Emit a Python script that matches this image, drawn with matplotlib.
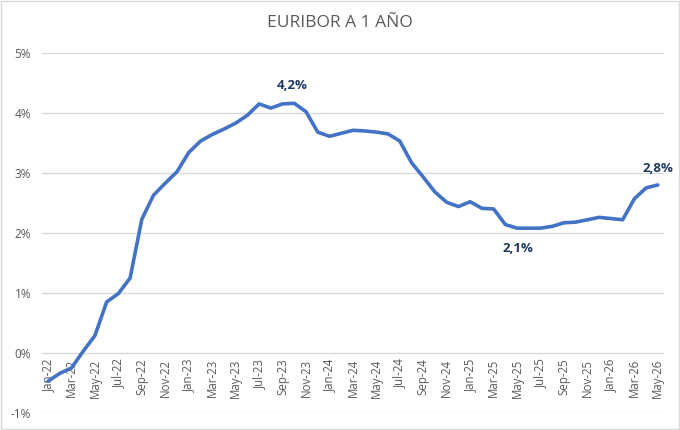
import matplotlib
matplotlib.use("Agg")
import matplotlib.pyplot as plt
from matplotlib.patches import Rectangle

plt.rcParams['font.family'] = ['Open Sans', 'DejaVu Sans']

# monthly 12-month Euribor, Jan-22 .. May-26
months = ['Jan', 'Feb', 'Mar', 'Apr', 'May', 'Jun', 'Jul', 'Aug', 'Sep', 'Oct', 'Nov', 'Dec']
labels = [f"{m}-{y}" for y in ['22', '23', '24', '25', '26'] for m in months][:53]

euribor = [-0.47, -0.34, -0.25, 0.03, 0.29, 0.85, 0.99, 1.25, 2.23, 2.63, 2.83, 3.02,
           3.34, 3.53, 3.64, 3.73, 3.83, 3.96, 4.15, 4.08, 4.15, 4.16, 4.02, 3.68,
           3.61, 3.66, 3.71, 3.70, 3.68, 3.65, 3.53, 3.17, 2.93, 2.68, 2.51, 2.44,
           2.52, 2.41, 2.40, 2.14, 2.08, 2.08, 2.08, 2.11, 2.17, 2.18, 2.22, 2.26,
           2.24, 2.22, 2.57, 2.75, 2.80]

# labelled points: (index, text, x offset px, y offset px)
notes = [(21, '4,2%', -2, 18), (41, '2,1%', -11, -20), (52, '2,8%', 0, 16)]

x = list(range(len(euribor)))

fig = plt.figure(figsize=(6.8, 4.3), dpi=100)
ax = fig.add_axes([0.062, 0.0395, 0.914, 0.8375])

# horizontal axis crosses at 0 (set before styling ticks, it resets them)
ax.spines['bottom'].set_position(('data', 0))
for s in ax.spines.values():
    s.set_visible(False)

ax.plot(x, euribor, color='#4472C4', lw=2.6, solid_capstyle='round', zorder=3)

ax.set_ylim(-1, 5)
ax.set_xlim(-0.5, len(x) - 0.5)
ax.set_yticks(range(-1, 6))
ax.set_yticklabels([f"{v}%" for v in range(-1, 6)], color='#595959', fontsize=8.5)
ax.yaxis.grid(True, color='#d9d9d9', lw=1)
ax.set_axisbelow(True)

ax.set_xticks(x[::2])
ax.set_xticklabels(labels[::2], rotation=90, color='#595959', fontsize=8.3)
ax.tick_params(length=0)
ax.tick_params(axis='x', pad=4)
ax.tick_params(axis='y', pad=8)

for i, txt, dx, dy in notes:
    ax.annotate(txt, (x[i], euribor[i]), xytext=(dx, dy), textcoords='offset pixels',
                ha='center', va='center', fontsize=9.5, fontweight='bold', color='#1f3864')

fig.text(0.5, 1 - 23 / 430, 'EURIBOR A 1 AÑO', ha='center', va='center',
         fontsize=12.5, color='#595959')

fig.patches.append(Rectangle((0.001, 0.002), 0.997, 0.995, transform=fig.transFigure,
                             fill=False, ec='#d9d9d9', lw=1))

fig.savefig('out.png', dpi=100)
